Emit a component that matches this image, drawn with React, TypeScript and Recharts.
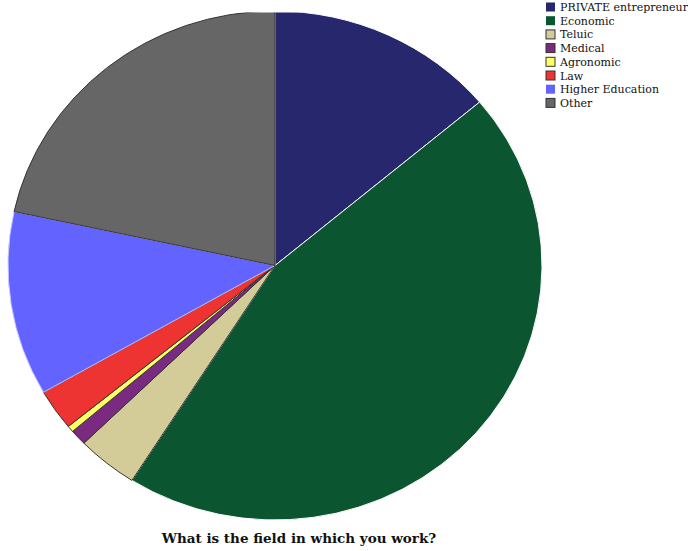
import React from "react";
import { PieChart, Pie, Cell } from "recharts";

const categories = [
  "PRIVATE entrepreneur",
  "Economic",
  "Teluic",
  "Medical",
  "Agronomic",
  "Law",
  "Higher Education",
  "Other",
];
const values = [13.9, 45.1, 3.7, 1.0, 0.4, 2.6, 11.7, 21.6];
const colors = ["#27276e", "#0b5630", "#d3cc99", "#7a2a80", "#ffff66", "#ee3333", "#6363ff", "#666666"];
const strokes = ["#ffffff", "#ffffff", "#333333", "#333333", "#333333", "#333333", "#c8c8ff", "#333333"];
const legendBorder = [false, false, true, true, true, true, false, true];
const title = "What is the field in which you work?";

const data = categories.map((name, i) => ({ name, value: values[i] }));

const serif = "'DejaVu Serif', serif";

export default function App() {
  const cx = 275;
  const cy = 265.5;
  const rx = 267;
  const ry = 254.5;
  return (
    <div style={{ position: "absolute", left: 0, top: 0, width: 688, height: 551, overflow: "hidden", background: "#fff" }}>
      <div
        style={{
          position: "absolute",
          left: 0,
          top: 0,
          width: 560,
          height: 560,
          transform: `scaleY(${ry / rx})`,
          transformOrigin: `${cx}px ${cy}px`,
        }}
      >
        <PieChart width={560} height={560} margin={{ top: 0, right: 0, bottom: 0, left: 0 }}>
          <Pie
            data={data}
            dataKey="value"
            nameKey="name"
            cx={cx}
            cy={cy}
            outerRadius={rx}
            startAngle={90}
            endAngle={-270}
            isAnimationActive={false}
            label={false}
            labelLine={false}
          >
            {data.map((d, i) => (
              <Cell key={d.name} fill={colors[i]} stroke={strokes[i]} strokeWidth={1} />
            ))}
          </Pie>
        </PieChart>
      </div>
      <svg width={688} height={551} style={{ position: "absolute", left: 0, top: 0 }}>
        {categories.map((name, i) => {
          const y = 7 + i * 13.7;
          return (
            <g key={name}>
              <rect
                x={546}
                y={y - 4.5}
                width={9}
                height={9}
                fill={colors[i]}
                stroke={legendBorder[i] ? "#333" : "none"}
                strokeWidth={1}
              />
              <text x={560} y={y + 4} fontFamily={serif} fontSize={11} fill="#111">
                {name}
              </text>
            </g>
          );
        })}
        <text
          x={299}
          y={543}
          textAnchor="middle"
          fontFamily={serif}
          fontWeight="bold"
          fontSize={13.5}
          fill="#111"
        >
          {title}
        </text>
      </svg>
    </div>
  );
}
